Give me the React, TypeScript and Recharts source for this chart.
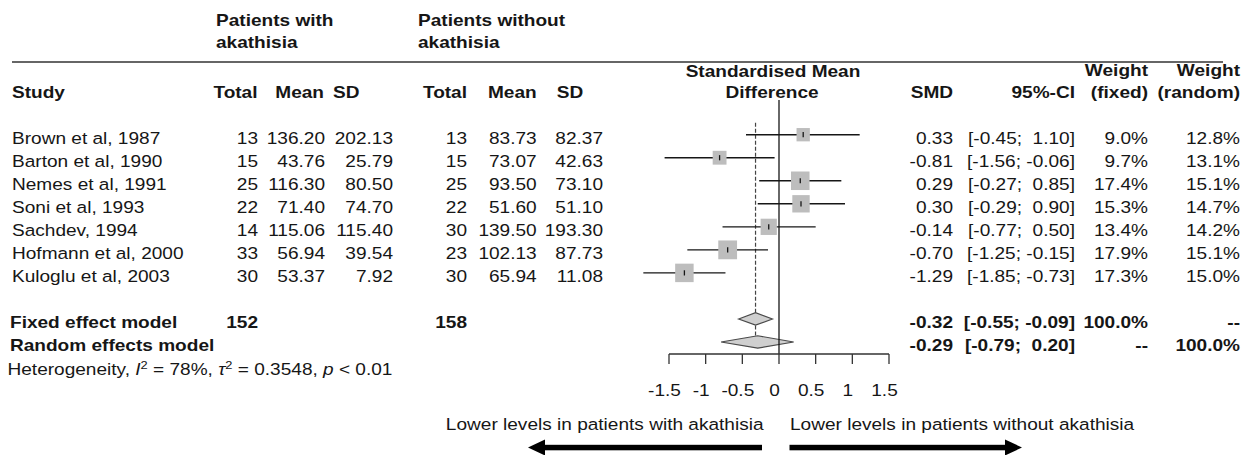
import React from 'react';
import { ComposedChart, XAxis, YAxis, Scatter, ReferenceLine, ReferenceArea } from 'recharts';

// ---------------- data ----------------
const studies = ['Brown et al, 1987', 'Barton et al, 1990', 'Nemes et al, 1991', 'Soni et al, 1993', 'Sachdev, 1994', 'Hofmann et al, 2000', 'Kuloglu et al, 2003'];
const totalWith = [13, 15, 25, 22, 14, 33, 30];
const meanWith = [136.2, 43.76, 116.3, 71.4, 115.06, 56.94, 53.37];
const sdWith = [202.13, 25.79, 80.5, 74.7, 115.4, 39.54, 7.92];
const totalWithout = [13, 15, 25, 22, 30, 23, 30];
const meanWithout = [83.73, 73.07, 93.5, 51.6, 139.5, 102.13, 65.94];
const sdWithout = [82.37, 42.63, 73.1, 51.1, 193.3, 87.73, 11.08];
const smd = [0.33, -0.81, 0.29, 0.3, -0.14, -0.7, -1.29];
const ciLow = [-0.45, -1.56, -0.27, -0.29, -0.77, -1.25, -1.85];
const ciHigh = [1.1, -0.06, 0.85, 0.9, 0.5, -0.15, -0.73];
const weightFixed = [9.0, 9.7, 17.4, 15.3, 13.4, 17.9, 17.3];
const weightRandom = [12.8, 13.1, 15.1, 14.7, 14.2, 15.1, 15.0];

const modelNames = ['Fixed effect model', 'Random effects model'];
const modelRows = [8, 9];
const modelSmd = [-0.32, -0.29];
const modelLow = [-0.55, -0.79];
const modelHigh = [-0.09, 0.2];
const modelWFixed = ['100.0%', '--'];
const modelWRandom = ['--', '100.0%'];
const sumWith = 152;
const sumWithout = 158;

const xTicks = [-1.5, -1, -0.5, 0, 0.5, 1, 1.5];

// ---------------- style ----------------
const FONT = "'Liberation Sans', Arial, Helvetica, sans-serif";
const FS = 16.3;
const SX = 1.17;
const INK = '#161616';

const T = ({ x, y, anchor = 'start', bold = false, children, size = FS }: any) => (
  <text
    transform={`translate(${x},${y}) scale(${SX},1)`}
    textAnchor={anchor}
    fontFamily={FONT}
    fontSize={size}
    fontWeight={bold ? 'bold' : 'normal'}
    fill={INK}
    style={{ whiteSpace: 'pre' }}
  >
    {children}
  </text>
);

const pad = (v: number) => (v < 0 ? '' : ' ');
const f2 = (v: number) => v.toFixed(2);
const ci = (lo: number, hi: number) => `[${pad(lo)}${f2(lo)}; ${pad(hi)}${f2(hi)}]`;
const pct = (v: number) => v.toFixed(1) + '%';

const COL = {
  label: 12, label2: 10,
  nW: 258, mW: 325, sW: 393,
  nWo: 467, mWo: 536.7, sWo: 603,
  smd: 953, ci: 1075, wf: 1148, wr: 1240,
};

const studyPoints = studies.map((_, i) => ({ x: smd[i], y: i, w: weightFixed[i] }));

const tableRows = [
  ...studies.map((name, i) => ({
    x: 0, y: i, bold: false, label: name,
    nW: String(totalWith[i]), mW: f2(meanWith[i]), sW: f2(sdWith[i]),
    nWo: String(totalWithout[i]), mWo: f2(meanWithout[i]), sWo: f2(sdWithout[i]),
    smd: f2(smd[i]), ci: ci(ciLow[i], ciHigh[i]), wf: pct(weightFixed[i]), wr: pct(weightRandom[i]),
  })),
  ...modelNames.map((name, k) => ({
    x: 0, y: modelRows[k], bold: true, label: name,
    nW: k === 0 ? String(sumWith) : '', mW: '', sW: '',
    nWo: k === 0 ? String(sumWithout) : '', mWo: '', sWo: '',
    smd: f2(modelSmd[k]), ci: ci(modelLow[k], modelHigh[k]), wf: modelWFixed[k], wr: modelWRandom[k],
  })),
];

const RowShape = (props: any) => {
  const { cy, payload } = props;
  const y = cy + 9;
  const b = payload.bold;
  return (
    <g>
      <T x={b ? COL.label2 : COL.label} y={y} bold={b}>{payload.label}</T>
      <T x={COL.nW} y={y} anchor="end" bold={b}>{payload.nW}</T>
      <T x={COL.mW} y={y} anchor="end" bold={b}>{payload.mW}</T>
      <T x={COL.sW} y={y} anchor="end" bold={b}>{payload.sW}</T>
      <T x={COL.nWo} y={y} anchor="end" bold={b}>{payload.nWo}</T>
      <T x={COL.mWo} y={y} anchor="end" bold={b}>{payload.mWo}</T>
      <T x={COL.sWo} y={y} anchor="end" bold={b}>{payload.sWo}</T>
      <T x={COL.smd} y={y} anchor="end" bold={b}>{payload.smd}</T>
      <T x={COL.ci} y={y} anchor="end" bold={b}>{payload.ci}</T>
      <T x={COL.wf} y={y} anchor="end" bold={b}>{payload.wf}</T>
      <T x={COL.wr} y={y} anchor="end" bold={b}>{payload.wr}</T>
    </g>
  );
};

const SquareShape = (props: any) => {
  const { cx, cy, payload } = props;
  const s = 4.44 * Math.sqrt(payload.w);
  return (
    <g>
      <rect x={cx - s / 2} y={cy - s / 2} width={s} height={s} fill="#bdbdbd" />
      <line x1={cx} x2={cx} y1={cy - 2.6} y2={cy + 2.6} stroke={INK} strokeWidth={1.3} />
    </g>
  );
};

const diamond = (frac: number) => (p: any) => {
  const { x, y, width, height } = p;
  const ax = x + width * frac;
  return (
    <polygon
      points={`${x},${y + height / 2} ${ax},${y} ${x + width},${y + height / 2} ${ax},${y + height}`}
      fill="#cfcfcf"
      stroke="#4a4a4a"
      strokeWidth={1.2}
    />
  );
};

const Tick = (p: any) => (
  <T x={p.x - 4.5} y={p.y + 32} anchor="middle">{String(p.payload.value)}</T>
);

const Overlay = () => (
  <svg width={1255} height={455} style={{ position: 'absolute', left: 0, top: 0, pointerEvents: 'none' }}>
    <T x={216} y={26} bold>Patients with</T>
    <T x={216} y={48} bold>akathisia</T>
    <T x={418} y={26} bold>Patients without</T>
    <T x={418} y={48} bold>akathisia</T>
    <line x1={12} x2={1223} y1={62} y2={62} stroke="#333" strokeWidth={1.6} />
    <T x={773} y={76.5} anchor="middle" bold>Standardised Mean</T>
    <T x={772} y={97.5} anchor="middle" bold>Difference</T>
    <T x={1148} y={76} anchor="end" bold>Weight</T>
    <T x={1240} y={76} anchor="end" bold>Weight</T>
    <T x={12} y={98} bold>Study</T>
    <T x={257.5} y={98} anchor="end" bold>Total</T>
    <T x={324} y={98} anchor="end" bold>Mean</T>
    <T x={333} y={98} bold>SD</T>
    <T x={467} y={98} anchor="end" bold>Total</T>
    <T x={536.7} y={98} anchor="end" bold>Mean</T>
    <T x={556.7} y={98} bold>SD</T>
    <T x={953} y={98} anchor="end" bold>SMD</T>
    <T x={1075} y={98} anchor="end" bold>95%-CI</T>
    <T x={1148} y={98} anchor="end" bold>(fixed)</T>
    <T x={1240} y={98} anchor="end" bold>(random)</T>
    <text
      transform={`translate(7.5,375) scale(${SX},1)`}
      fontFamily={FONT}
      fontSize={FS}
      fill={INK}
      style={{ whiteSpace: 'pre' }}
    >
      {'Heterogeneity, '}
      <tspan fontStyle="italic">I</tspan>
      <tspan fontSize={11} dy={-6}>2</tspan>
      <tspan dy={6}>{' = 78%, '}</tspan>
      <tspan fontStyle="italic">τ</tspan>
      <tspan fontSize={11} dy={-6}>2</tspan>
      <tspan dy={6}>{' = 0.3548, '}</tspan>
      <tspan fontStyle="italic">p</tspan>
      <tspan>{' < 0.01'}</tspan>
    </text>
    <T x={763.5} y={430} anchor="end">Lower levels in patients with akathisia</T>
    <T x={790} y={430}>Lower levels in patients without akathisia</T>
    <rect x={543} y={444.8} width={219} height={5.5} fill="#000" />
    <polygon points="528,447.5 545,439.5 545,455.5" fill="#000" />
    <rect x={789.5} y={444.8} width={217} height={5.5} fill="#000" />
    <polygon points="1022,447.5 1005,439.5 1005,455.5" fill="#000" />
  </svg>
);

export default function App() {
  return (
    <div style={{ position: 'absolute', left: 0, top: 0, width: 1255, height: 455, background: '#fff', overflow: 'hidden' }}>
      <ComposedChart
        width={1255}
        height={455}
        margin={{ top: 100, right: 366, bottom: 61, left: 669 }}
      >
        <XAxis
          type="number"
          dataKey="x"
          domain={[-1.5, 1.5]}
          ticks={xTicks}
          interval={0}
          tickSize={10}
          tickMargin={0}
          height={40}
          axisLine={{ stroke: '#333', strokeWidth: 1.3 }}
          tickLine={{ stroke: '#333', strokeWidth: 1.3 }}
          tick={<Tick />}
        />
        <YAxis type="number" dataKey="y" domain={[-1.507, 9.522]} reversed hide width={0} />
        <ReferenceLine x={0} stroke={INK} strokeWidth={1.3} />
        <ReferenceLine
          segment={[{ x: modelSmd[0], y: -0.52 }, { x: modelSmd[0], y: modelRows[0] - 0.28 }]}
          stroke="#444"
          strokeWidth={1.2}
          strokeDasharray="4 2"
          ifOverflow="visible"
        />
        <ReferenceLine
          segment={[{ x: modelSmd[0], y: modelRows[0] + 0.28 }, { x: modelSmd[0], y: modelRows[1] - 0.27 }]}
          stroke="#444"
          strokeWidth={1.2}
          strokeDasharray="4 2"
          ifOverflow="visible"
        />
        {studies.map((_, i) => (
          <ReferenceLine
            key={'ci' + i}
            segment={[{ x: ciLow[i], y: i }, { x: ciHigh[i], y: i }]}
            stroke={INK}
            strokeWidth={1.4}
            ifOverflow="visible"
          />
        ))}
        {modelNames.map((_, k) => (
          <ReferenceArea
            key={'d' + k}
            x1={modelLow[k]}
            x2={modelHigh[k]}
            y1={modelRows[k] - 0.27}
            y2={modelRows[k] + 0.27}
            ifOverflow="visible"
            shape={diamond((modelSmd[k] - modelLow[k]) / (modelHigh[k] - modelLow[k]))}
          />
        ))}
        <Scatter data={studyPoints} shape={<SquareShape />} isAnimationActive={false} />
        <Scatter data={tableRows} shape={<RowShape />} isAnimationActive={false} />
      </ComposedChart>
      <Overlay />
    </div>
  );
}
